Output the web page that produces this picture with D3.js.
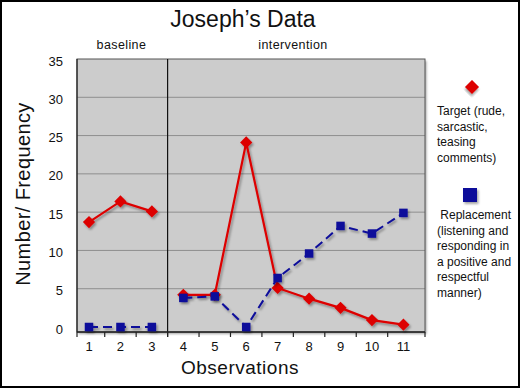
<!DOCTYPE html>
<html lang="en">
<head>
<meta charset="UTF-8">
<title>Joseph's Data</title>
<script src="https://d3js.org/d3.v7.min.js"></script>
<style>
  body{margin:0;background:#fff;}
  svg text{font-family:"Liberation Sans",Arial,sans-serif;fill:#111;}
</style>
</head>
<body>
<svg class="chart"></svg>
<script>
let observations=[1,2,3,4,5,6,7,8,9,10,11]
let target=[13.7,16.4,15.1,4.2,4.2,24.1,5.1,3.7,2.5,0.9,0.3]
let replacement=[0,0,0,3.8,4.0,0,6.4,9.6,13.2,12.2,14.9]
let phases=[{name:'baseline',from:1,to:3},{name:'intervention',from:4,to:11}]
let yTicks=[0,5,10,15,20,25,30,35]
let targetLabel=['Target (rude,','sarcastic,','teasing','comments)']
let replacementLabel=[' Replacement','(listening and','responding in','a positive and','respectful','manner)']

let W=520,H=388
let plot={left:77,right:425,top:59,bottom:332}

let svg=d3.select('.chart').attr('width',W).attr('height',H)

let x=d3.scalePoint().domain(observations).range([89,403.4])
let y=d3.scaleLinear().domain([0,35]).range([327,59])
let step=x.step()

let defs=svg.append('defs')
let f=defs.append('filter').attr('id','shadow').attr('x','-20%').attr('y','-20%').attr('width','150%').attr('height','150%')
f.append('feDropShadow').attr('dx',1.5).attr('dy',2).attr('stdDeviation',1.2).attr('flood-color','#000').attr('flood-opacity',0.35)

// frame
svg.append('rect').attr('x',1).attr('y',1).attr('width',W-2).attr('height',H-2)
   .attr('fill','#fff').attr('stroke','#000').attr('stroke-width',2)

// plot area
svg.append('rect').attr('x',plot.left).attr('y',plot.top)
   .attr('width',plot.right-plot.left).attr('height',plot.bottom-plot.top)
   .attr('fill','#cccccc').attr('filter','url(#shadow)')

svg.append('g').selectAll('line').data(yTicks.filter(d=>d>0&&d<35)).enter()
   .append('line')
   .attr('x1',plot.left).attr('x2',plot.right)
   .attr('y1',d=>y(d)).attr('y2',d=>y(d))
   .attr('stroke','#8e8e8e').attr('stroke-width',1)

svg.append('rect').attr('x',plot.left).attr('y',plot.top)
   .attr('width',plot.right-plot.left).attr('height',plot.bottom-plot.top)
   .attr('fill','none').attr('stroke','#555').attr('stroke-width',1)

// phase change line
let phaseX=(x(3)+x(4))/2
svg.append('line').attr('x1',phaseX).attr('x2',phaseX).attr('y1',plot.top).attr('y2',plot.bottom+5)
   .attr('stroke','#111').attr('stroke-width',1.2)

// axes lines
svg.append('line').attr('x1',plot.left).attr('x2',plot.left).attr('y1',plot.top).attr('y2',plot.bottom)
   .attr('stroke','#222').attr('stroke-width',1.2)
svg.append('line').attr('x1',plot.left).attr('x2',plot.right).attr('y1',plot.bottom).attr('y2',plot.bottom)
   .attr('stroke','#222').attr('stroke-width',1.5)

// x ticks between categories
let tickPos=[plot.left].concat(observations.slice(1).map(d=>x(d)-step/2)).concat([plot.right])
svg.append('g').selectAll('line').data(tickPos).enter().append('line')
   .attr('x1',d=>d).attr('x2',d=>d).attr('y1',plot.bottom).attr('y2',plot.bottom+5)
   .attr('stroke','#222').attr('stroke-width',1.2)

svg.append('g').selectAll('text').data(observations).enter().append('text')
   .attr('x',d=>x(d)).attr('y',plot.bottom+19).attr('text-anchor','middle')
   .attr('font-size',13).text(d=>d)

svg.append('g').selectAll('text').data(yTicks).enter().append('text')
   .attr('x',63).attr('y',d=>y(d)+6.5).attr('text-anchor','end')
   .attr('font-size',13).text(d=>d)

// titles
svg.append('text').attr('x',243).attr('y',27).attr('text-anchor','middle')
   .attr('font-size',23).text('Joseph\u2019s Data')
svg.append('g').selectAll('text').data(phases).enter().append('text')
   .attr('x',d=>d.name=='baseline'?x(2)+1:293).attr('y',49).attr('text-anchor','middle')
   .attr('font-size',12.5).attr('letter-spacing',0.4).text(d=>d.name)
svg.append('text').attr('x',240).attr('y',374).attr('text-anchor','middle')
   .attr('font-size',19).attr('letter-spacing',0.5).text('Observations')
svg.append('text').attr('transform','translate(30,194) rotate(-90)').attr('text-anchor','middle')
   .attr('font-size',20).attr('letter-spacing',0.4).text('Number/ Frequency')

// series
let line=d3.line().x(d=>x(d.o)).y(d=>y(d.v))
function segments(vals){
  return phases.map(p=>observations.filter(o=>o>=p.from&&o<=p.to).map(o=>({o:o,v:vals[o-1]})))
}
let tSeg=segments(target),rSeg=segments(replacement)

let gT=svg.append('g').attr('filter','url(#shadow)')
gT.selectAll('path').data(tSeg).enter().append('path')
   .attr('d',line).attr('fill','none').attr('stroke','#dd0000').attr('stroke-width',2.2)

let diamond=d3.symbol().type(d3.symbolSquare).size(75)
gT.selectAll('.pt').data(observations).enter().append('path')
   .attr('d',diamond)
   .attr('transform',d=>'translate('+x(d)+','+y(target[d-1])+') rotate(45)')
   .attr('fill','#dd0000')

let gR=svg.append('g').attr('filter','url(#shadow)')
gR.selectAll('path').data(rSeg).enter().append('path')
   .attr('d',line).attr('fill','none').attr('stroke','#0a0a9a').attr('stroke-width',2).attr('stroke-dasharray','9,5')

let square=d3.symbol().type(d3.symbolSquare).size(72)
gR.selectAll('.pt').data(observations).enter().append('path')
   .attr('d',square)
   .attr('transform',d=>'translate('+x(d)+','+y(replacement[d-1])+')')
   .attr('fill','#0a0a9a')

// legend
svg.append('path').attr('d',d3.symbol().type(d3.symbolSquare).size(100))
   .attr('transform','translate(472,87) rotate(45)').attr('fill','#dd0000').attr('filter','url(#shadow)')
svg.append('g').selectAll('text').data(targetLabel).enter().append('text')
   .attr('x',437).attr('y',(d,i)=>115+i*15.5).attr('font-size',12).text(d=>d)

svg.append('rect').attr('x',463).attr('y',188).attr('width',14).attr('height',14)
   .attr('fill','#0a0a9a').attr('filter','url(#shadow)')
svg.append('g').selectAll('text').data(replacementLabel).enter().append('text')
   .attr('x',437).attr('y',(d,i)=>219+i*15.5).attr('font-size',12)
   .attr('xml:space','preserve').style('white-space','pre').text(d=>d)
</script>
</body>
</html>
